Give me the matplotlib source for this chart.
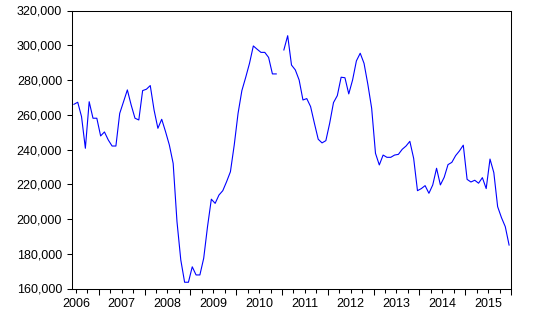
import matplotlib.pyplot as plt
import numpy as np

# monthly series, 2006M06 .. 2015M12 (one missing month in 2010)
start_year = 2006
start_month = 6
values = [266000, 267200, 258900, 240700, 267500, 258000, 258000,
          247800, 250100, 245500, 242000, 242000, 260800, 267500, 274300, 265600, 258000, 257000, 273900,
          274700, 276800, 262700, 252200, 257400, 250300, 242600, 232000, 198500, 176400, 163600, 163600,
          172500, 167800, 167800, 177400, 195600, 211400, 209000, 213800, 216300, 221500, 227200, 242600,
          260800, 273900, 281500, 289600, 299600, 297700, 295900, 295900, 293000, 283500, 283500, np.nan,
          297300, 305500, 288600, 285800, 280000, 268500, 269300, 264700, 255100, 245900, 243800, 245100,
          255100, 267000, 271000, 281600, 281300, 272000, 280000, 291000, 295400, 289600, 277500, 263700,
          237800, 231100, 236800, 235500, 235500, 236800, 237200, 240100, 242000, 244700, 234900, 216300,
          217500, 219200, 214800, 219600, 229200, 219600, 224000, 231300, 232600, 236500, 239200, 242500,
          222800, 221300, 222300, 220600, 223800, 217500, 234500, 226700, 207100, 200800, 195600, 185000]
y_ticks = [160000, 180000, 200000, 220000, 240000, 260000, 280000, 300000, 320000]

plt.rcParams['font.family'] = ['Liberation Sans', 'DejaVu Sans']
plt.rcParams['font.size'] = 9

n = len(values)
x = np.arange(n)
months = (start_month - 1 + x) % 12 + 1
years = start_year + (start_month - 1 + x) // 12

fig = plt.figure(figsize=(5.38, 3.21), dpi=100)
ax = fig.add_axes([72 / 538, 32.5 / 321, 439 / 538, 278 / 321])

ax.plot(x, values, color='#0000FF', linewidth=0.8)

ax.set_xlim(-0.5, n - 0.5)
ax.set_ylim(y_ticks[0], y_ticks[-1])
ax.set_yticks(y_ticks)
ax.set_yticklabels([f"{v:,}" for v in y_ticks])

# year boundaries as major ticks, quarter boundaries as minor ticks
jan = x[months == 1]
ax.set_xticks(list(jan - 0.5) + [n - 0.5])
ax.set_xticklabels([])
quarters = x[np.isin(months, [4, 7, 10])]
ax.set_xticks(quarters - 0.5, minor=True)

# year labels centred on each year
for yr in np.unique(years):
    first = x[years == yr][0] - (months[years == yr][0] - 1)
    ax.text(first + 5.5, -0.055, str(yr), transform=ax.get_xaxis_transform(),
            ha='center', va='center', fontsize=9)

ax.tick_params(axis='y', direction='out', length=3.6, width=0.75, pad=3.5)
ax.tick_params(axis='x', which='major', direction='out', length=4.5, width=0.75)
ax.tick_params(axis='x', which='minor', direction='out', length=2.6, width=0.75)
for s in ax.spines.values():
    s.set_linewidth(0.75)

fig.savefig('out.png', dpi=100)
